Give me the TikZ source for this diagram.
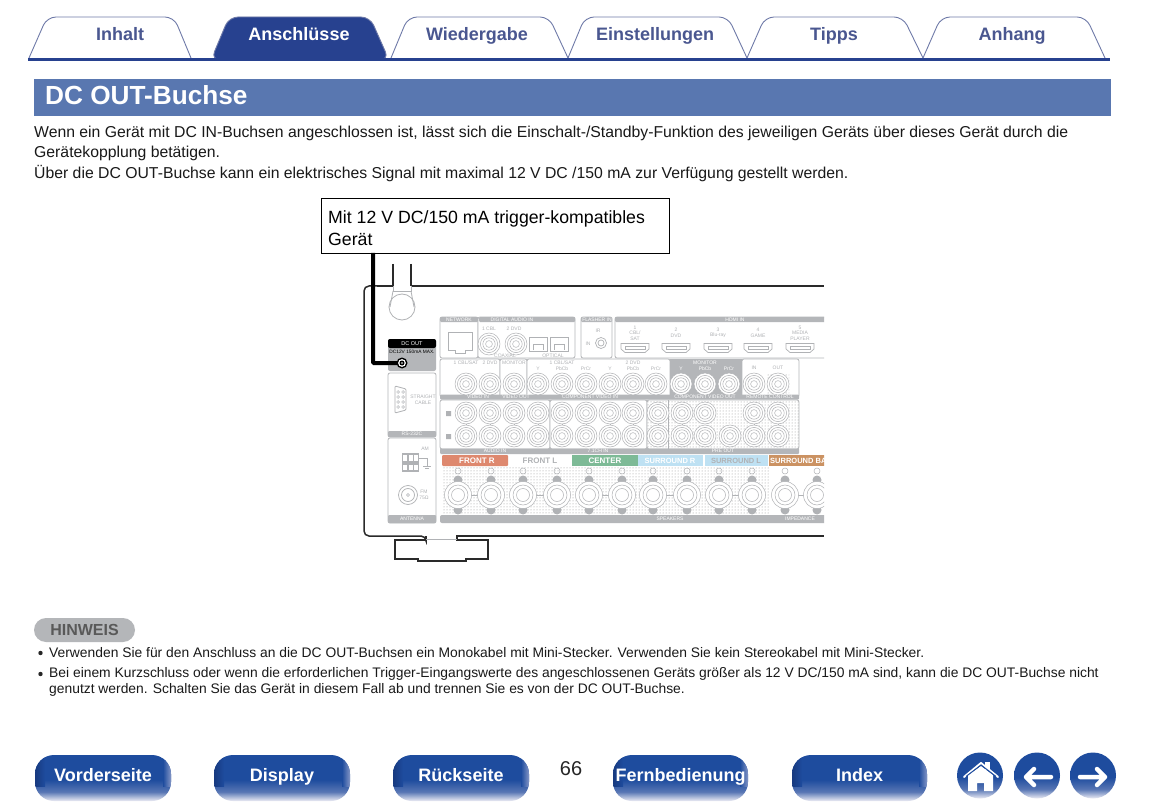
\documentclass[tikz,border=0pt]{standalone}
\usepackage{fontspec}
\setmainfont{Liberation Sans}
\usetikzlibrary{patterns,calc}
\definecolor{tabblue}{HTML}{27418F}
\definecolor{tabtxt}{HTML}{4A5790}
\definecolor{tabedge}{HTML}{6F7AA8}
\definecolor{headblue}{HTML}{5977B0}
\definecolor{pgray}{HTML}{B4B6B9}
\definecolor{jgray}{HTML}{B0B2B5}
\definecolor{chassis}{HTML}{2A2A2A}
\definecolor{btnA}{HTML}{1E4C9E}
\definecolor{btnB}{HTML}{ECECF4}
\definecolor{btnC}{HTML}{5876B4}
\definecolor{btnD}{HTML}{17397F}
\definecolor{btnE}{HTML}{8496C6}
\pgfdeclareverticalshading{btnshade}{100bp}{color(0bp)=(btnB); color(25bp)=(btnB); color(35bp)=(btnC); color(48bp)=(btnA); color(75bp)=(btnA); color(100bp)=(btnA)}
\newcounter{lb}
\newcommand{\lbl}[4][]{\stepcounter{lb}\node[tiny,#1] (lb\arabic{lb}) at (#2,#3) {#4};}
\newcommand{\jack}[2]{\draw[jk,fill=white] (#1,#2) circle (11);\draw[jk] (#1,#2) circle (8.6) (#1,#2) circle (6.2) (#1,#2) circle (3.4);}
\newcommand{\hdmi}[2]{\draw[jk,fill=white,line width=.7pt] (#1-14,#2-4.5) -- (#1+14,#2-4.5) -- (#1+14,#2+1) -- (#1+10,#2+4.5) -- (#1-10,#2+4.5) -- (#1-14,#2+1) -- cycle;\draw[jk] (#1-10,#2-2) rectangle (#1+10,#2+1);}
\newcommand{\post}[2]{\fill[jgray] (#1,#2-15) circle (4.5) (#1,#2+15) circle (4.5);\draw[jk,fill=white] (#1,#2) circle (13.5);\draw[jk] (#1,#2) circle (10) (#1,#2) circle (6.5);\draw[jk] (#1,#2-24) circle (3);}
\tikzset{
 x=1pt,y=-1pt,
 tiny/.style={inner sep=0,text=#1,font=\fontsize{5}{5.5}\selectfont,align=center},
 tiny/.default={white},
 tabshape/.style={draw=tabedge,line width=.9pt,rounded corners=9pt},
 tablabel/.style={inner sep=0,anchor=base,font=\fontsize{18}{18}\selectfont\bfseries},
 body/.style={inner sep=0,anchor=base west,font=\fontsize{15.77}{16}\selectfont,text=black!90},
 note/.style={inner sep=0,anchor=base west,font=\fontsize{13.85}{14}\selectfont,text=black!90},
 panel/.style={draw=pgray,line width=.8pt,rounded corners=2pt,fill=white},
 bar/.style={fill=pgray,rounded corners=1pt},
 jk/.style={draw=jgray,line width=.5pt},
 dotted area/.style={pattern=dots,pattern color=gray!85},
 chs/.style={draw=chassis,line width=1.5pt},
 navbtn/.style={shading=btnshade,rounded corners=19pt},
 navlabel/.style={inner sep=0,anchor=base,text=white,font=\fontsize{18}{18}\selectfont\bfseries},
 spk/.style={inner sep=0,font=\fontsize{8}{8}\selectfont\bfseries},
}
\begin{document}
\begin{tikzpicture}
\useasboundingbox (0,0) rectangle (1151,810);
\fill[white] (0,0) rectangle (1151,810);
% tabs
\draw[tabshape] (29,58) -- (47,17) -- (174,17) -- (191,58);
\draw[tabshape,fill=tabblue] (211,60) -- (229,17) -- (370,17) -- (389,60) -- cycle;
\draw[tabshape] (391,58) -- (408,17) -- (549,17) -- (568,58);
\draw[tabshape] (568,58) -- (585,17) -- (728,17) -- (747,58);
\draw[tabshape] (747,58) -- (765,17) -- (903,17) -- (923,58);
\draw[tabshape] (923,58) -- (941,17) -- (1086,17) -- (1105,58);
\fill[tabblue] (28,58) rectangle (1110,61.5);
\node[tablabel,text=tabtxt] (t1) at (120,41) {Inhalt};
\node[tablabel,text=white] (t2) at (299,41) {Anschlüsse};
\node[tablabel,text=tabtxt] (t3) at (477,41) {Wiedergabe};
\node[tablabel,text=tabtxt] (t4) at (655,41) {Einstellungen};
\node[tablabel,text=tabtxt] (t5) at (834,41) {Tipps};
\node[tablabel,text=tabtxt] (t6) at (1012,41) {Anhang};
% header
\fill[headblue] (34,79) rectangle (1111,116);
\node[inner sep=0,anchor=base west,text=white,font=\fontsize{26.2}{26}\selectfont\bfseries] (title) at (45,104.5) {DC OUT-Buchse};
% body text
\node[body] (b1) at (34,137.5) {Wenn ein Gerät mit DC IN-Buchsen angeschlossen ist, lässt sich die Einschalt-/Standby-Funktion des jeweiligen Geräts über dieses Gerät durch die};
\node[body] (b2) at (34,157.5) {Gerätekopplung betätigen.};
\node[body] (b3) at (34,178.5) {Über die DC OUT-Buchse kann ein elektrisches Signal mit maximal 12 V DC /150 mA zur Verfügung gestellt werden.};
% device box
\node[draw=black,line width=.8pt,minimum width=348pt,minimum height=55pt,inner sep=0] (dev) at (495,225.5) {};
\node[inner sep=0,anchor=base west,font=\fontsize{17.7}{18}\selectfont] (devt1) at (328,224) {Mit 12 V DC/150 mA trigger-kompatibles};
\node[inner sep=0,anchor=base west,font=\fontsize{17.7}{18}\selectfont] (devt2) at (328,246) {Gerät};
% chassis
\draw[chs,rounded corners=5pt] (377,286) -- (364,286) -- (364,536) -- (426,536) -- (426,540);
\draw[chs] (411,286) -- (824,286);
\draw[chs] (393,264) -- (393,286) -- (377,286);
\draw[chs] (411,264) -- (411,286);
\draw[chs] (426,536) -- (426,540) -- (395,540) -- (395,559) -- (418,559) -- (418,561) -- (466,561) -- (466,559) -- (488,559) -- (488,540) -- (457,540) -- (457,536) -- (824,536);
\draw[jgray,line width=.8pt] (426,539) -- (457,539);
% socket at top
\draw[jgray,line width=.8pt] (402,307) circle (13);
\draw[jgray,line width=.8pt,fill=white] (393,286) -- (393,291) -- (411,291) -- (411,286);
\draw[jgray,line width=.8pt] (393,291) -- (390,307) (411,291) -- (414,307);
% left column
\fill[pgray,rounded corners=2pt] (388,339) rectangle (436,371);
\fill[black,rounded corners=2pt] (388,339) rectangle (436,348);
\node[inner sep=0,text=white,font=\fontsize{5.5}{6}\selectfont] (dclab) at (412,343.5) {DC OUT};
\node[inner sep=0,text=black,font=\fontsize{4.8}{5}\selectfont] (dcspec) at (412,351.5) {DC12V 150mA MAX.};
\node[circle,minimum size=11pt,inner sep=0] (dcjack) at (402,363) {};
\coordinate (bend) at (373,363);
\draw[black,line width=4pt,rounded corners=1pt] (373,253) -- (bend) -- (dcjack.center);
\fill[black] (dcjack) circle (5.5);
\fill[white] (dcjack) circle (3.9);
\fill[black] (dcjack) circle (2.5);
\fill[white] (dcjack) circle (.9);
\draw[panel] (388,373) rectangle (436,437);
\fill[bar] (388,431) rectangle (436,437);
\lbl{412}{434}{RS-232C}
\draw[jk,line width=.8pt,rounded corners=1pt] (395,386) -- (406,389) -- (406,410) -- (395,413) -- cycle;
\foreach \yy in {392,397,402,407}{\draw[jk] (398,\yy) circle (1.4);\draw[jk] (403,\yy) circle (1.4);}
\lbl[tiny=jgray]{423}{400}{STRAIGHT\\CABLE}
\draw[panel] (388,438) rectangle (436,523);
\fill[bar] (388,515) rectangle (436,523);
\lbl{412}{519}{ANTENNA}
\lbl[tiny=jgray]{425}{449}{AM}
\fill[jgray] (402,453) rectangle (419,472);
\foreach \xx in {405,411,416}{\fill[white] (\xx-2,455) rectangle (\xx+2,461);\fill[white] (\xx-2,465) rectangle (\xx+2,470);}
\draw[jk,line width=.7pt] (419,458) -- (427,458) -- (427,466) (423,466) -- (431,466) (425,468) -- (429,468);
\draw[jk,line width=.7pt] (408,495) circle (9.5) (408,495) circle (6.5);
\draw[jk] (408,495) circle (1.5);
\lbl[tiny=jgray]{424}{495}{FM\\75Ω}
% rear panel, clipped at its right end
\begin{scope}
\clip (430,300) rectangle (824,530);
\draw[panel] (440,317) rectangle (478,358);
\draw[panel] (478,317) rectangle (575,358);
\draw[panel] (581,317) rectangle (612,358);
\draw[panel] (615,317) rectangle (840,358);
\fill[bar] (440,317) rectangle (478,322);
\fill[bar] (479,317) rectangle (575,322);
\fill[bar] (581,317) rectangle (612,322);
\fill[bar] (615,317) rectangle (840,322);
\lbl{459}{319.7}{NETWORK}
\lbl{512}{319.7}{DIGITAL AUDIO IN}
\lbl{597}{319.7}{FLASHER IN}
\lbl{735}{319.7}{HDMI IN}
\draw[jk,line width=.8pt] (448,332) -- (472,332) -- (472,350) -- (465,350) -- (465,353) -- (455,353) -- (455,350) -- (448,350) -- cycle;
\foreach \xx in {489,516}{\jack{\xx}{344}}
\foreach \xx in {538,559}{\draw[jk,line width=.8pt] (\xx-9,337) rectangle (\xx+9,351);\draw[jk] (\xx-5,350) -- (\xx-5,344) -- (\xx+5,344) -- (\xx+5,350);}
\lbl[tiny=jgray]{489}{329}{1 CBL}
\lbl[tiny=jgray]{514}{329}{2 DVD}
\lbl[tiny=jgray]{505}{355.5}{COAXIAL}
\lbl[tiny=jgray]{553}{355.5}{OPTICAL}
\draw[jk,line width=.7pt] (601,343) circle (5.5) (601,343) circle (3);
\lbl[tiny=jgray]{598}{331}{IR}
\lbl[tiny=jgray]{588}{344}{IN}
\foreach \xx/\lab in {635/{1\\CBL/\\SAT},676/{2\\DVD},718/{3\\Blu-ray},758/{4\\GAME},800/{5\\MEDIA\\PLAYER}}{\hdmi{\xx}{348}\lbl[tiny=jgray]{\xx}{333}{\lab}}
% second row
\draw[panel] (440,359) rectangle (500,397);
\draw[panel] (500,359) rectangle (527,397);
\draw[panel] (527,359) rectangle (670,397);
\fill[pgray] (670,359) rectangle (742,396);
\draw[panel] (742,359) rectangle (799,397);
\fill[bar] (440,394.5) rectangle (799,399.5);
\foreach \xx/\lab in {466/{1 CBL/SAT},490/{2 DVD},514/{MONITOR}}{\lbl[tiny=jgray]{\xx}{363}{\lab}}
\foreach \xx/\lab in {538/Y,562/PbCb,586/PrCr,610/Y,633/PbCb,656/PrCr}{\lbl[tiny=jgray]{\xx}{369}{\lab}}
\lbl[tiny=jgray]{562}{362.5}{1 CBL/SAT}
\lbl[tiny=jgray]{633}{362.5}{2 DVD}
\lbl{705}{363}{MONITOR}
\foreach \xx/\lab in {681/Y,705/PbCb,729/PrCr}{\lbl{\xx}{369}{\lab}}
\lbl[tiny=jgray]{754}{368}{IN}
\lbl[tiny=jgray]{778}{368}{OUT}
\foreach \xx in {466,490,514,538,562,586,610,633,656,681,705,729,754}{\jack{\xx}{384}}
\fill[dotted area] (767,373) rectangle (789,395);
\jack{778}{384}
\lbl{478}{397}{VIDEO IN}
\lbl{516}{397}{VIDEO OUT}
\lbl{590}{397}{COMPONENT VIDEO IN}
\lbl{705}{397}{COMPONENT VIDEO OUT}
\lbl{770}{397}{REMOTE CONTROL}
% third block
\draw[panel] (440,400) rectangle (550,449);
\draw[panel] (550,400) rectangle (647,449);
\draw[panel] (647,400) rectangle (799,449);
\fill[dotted area] (647,401) rectangle (799,448);
\draw[jgray,line width=.5pt] (668,400) -- (668,449);
\fill[bar] (440,448.5) rectangle (799,454);
\lbl{495}{451.2}{AUDIO IN}
\lbl{598}{451.2}{7.1CH IN}
\lbl{723}{451.2}{PRE OUT}
\foreach \xx in {466,490,514,538,562,586,610,633,658,682,754,778}{\draw[jk] (\xx,413) -- (\xx,436);\jack{\xx}{413}\jack{\xx}{436}}
\jack{705}{436}\jack{730}{436}
\jack{705}{413}
\fill[jgray] (446,411) rectangle (451,416) (446,434) rectangle (451,439);
% speakers
\fill[white] (440,455) rectangle (830,523);
\fill[dotted area] (442,466) rectangle (769,515);
\fill[fill=pgray,rounded corners=2pt] (440,515) rectangle (830,523);
\lbl{670}{519}{SPEAKERS}
\lbl{800}{519}{IMPEDANCE}
\fill[rounded corners=1pt,fill={rgb,255:red,222;green,136;blue,110}] (442,455) rectangle (508,466);
\fill[fill={rgb,255:red,125;green,186;blue,150}] (572,455) rectangle (638,466);
\fill[fill={rgb,255:red,190;green,225;blue,243}] (638,455) rectangle (703,466);
\fill[fill={rgb,255:red,190;green,225;blue,243}] (705,455) rectangle (768,466);
\fill[fill={rgb,255:red,203;green,146;blue,98}] (769,455) rectangle (830,466);
\node[spk,text=white] (s1) at (477,460.7) {FRONT R};
\node[spk,text=jgray] (s2) at (540,460.7) {FRONT L};
\node[spk,text=white] (s3) at (605,460.7) {CENTER};
\node[spk,text=white,font=\fontsize{7.5}{8}\selectfont\bfseries] (s4) at (670,460.7) {SURROUND R};
\node[spk,text=jgray,font=\fontsize{7.5}{8}\selectfont\bfseries] (s5) at (736,460.7) {SURROUND L};
\node[spk,text=white,anchor=west,font=\fontsize{7.5}{8}\selectfont\bfseries] (s6) at (770,460.7) {SURROUND BACK};
\foreach \xa/\xb in {458/491,523/557,589/622,653/687,719/752,785/817}{
 \draw[jk,line width=1pt] (\xa,495) -- (\xb,495);
 \post{\xa}{495}\post{\xb}{495}}
\end{scope}
% note
\fill[pgray,rounded corners=12pt] (34,618) rectangle (135,642);
\node[inner sep=0,text=black!65,font=\fontsize{16}{16}\selectfont\bfseries] (hinweis) at (84.5,630) {HINWEIS};
\fill[black!85] (40.5,653) circle (2.2) (40.5,674) circle (2.2);
\node[note] (n1) at (49,657) {Verwenden Sie für den Anschluss an die DC OUT-Buchsen ein Monokabel mit Mini-Stecker. Verwenden Sie kein Stereokabel mit Mini-Stecker.};
\node[note] (n2) at (49,677.5) {Bei einem Kurzschluss oder wenn die erforderlichen Trigger-Eingangswerte des angeschlossenen Geräts größer als 12 V DC/150 mA sind, kann die DC OUT-Buchse nicht};
\node[note] (n3) at (49,693.5) {genutzt werden. Schalten Sie das Gerät in diesem Fall ab und trennen Sie es von der DC OUT-Buchse.};
% nav buttons
\foreach \xa/\xb/\lab/\nm in {35/171/Vorderseite/v,214/350/Display/d,393/529/Rückseite/r,613/748/Fernbedienung/f,792/927/Index/i}{
 \path[navbtn] (\xa,755) rectangle (\xb,801);
 \begin{scope}
 \clip[rounded corners=19pt] (\xa,755) rectangle (\xb,801);
 \shade[left color=btnD,right color=btnA] (\xa,755) rectangle (\xa+10,786);
 \shade[left color=btnA,right color=btnE] (\xb-8,757) rectangle (\xb,786);
 \end{scope}
 \node[navlabel] (nav\nm) at ({(\xa+\xb)/2},781) {\lab};
}
\node[inner sep=0,font=\fontsize{20}{20}\selectfont,text=black!85] (page) at (571,769) {66};
% round icons
\foreach \cx in {980,1037,1093}{\path[shading=btnshade] (\cx,775.5) circle (23);}
\fill[white] (968,775) -- (981,766) -- (993,775) -- (993,791) -- (984,791) -- (984,783) -- (977,783) -- (977,791) -- (968,791) -- cycle;
\fill[white] (985,762) rectangle (990,770);
\draw[white,line width=2pt,line cap=round,line join=round] (964,777) -- (981,763) -- (998,777);
\draw[btnA,line width=1pt,line join=round] (966,776.5) -- (981,765) -- (996,776.5);
\draw[white,line width=4.5pt,line cap=round,line join=round] (1051,777) -- (1026,777) (1034,769) -- (1026,777) -- (1034,785);
\draw[white,line width=4.5pt,line cap=round,line join=round] (1080,777) -- (1105,777) (1097,769) -- (1105,777) -- (1097,785);
\end{tikzpicture}
\end{document}
